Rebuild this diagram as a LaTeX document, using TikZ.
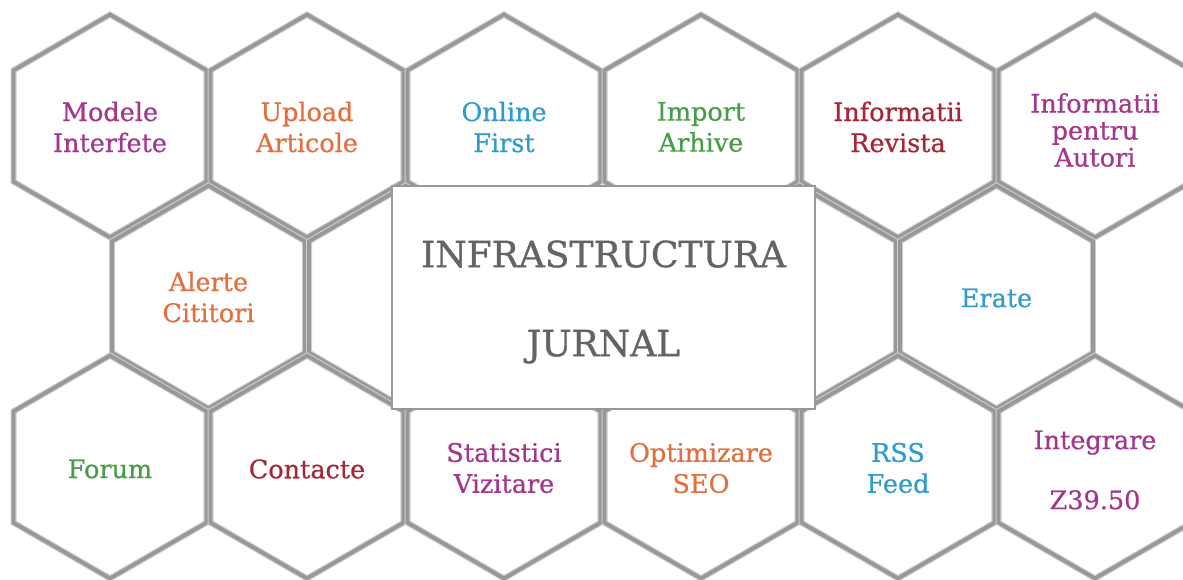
\documentclass[tikz,border=0pt]{standalone}
\usepackage{fontspec}
\setmainfont{DejaVu Serif}
\newfontfamily\hexfont[BoldFont=DejaVu Serif, BoldFeatures={FakeBold=0.7}]{DejaVu Serif}
\newfontfamily\titlefont[BoldFont=DejaVu Serif, BoldFeatures={FakeBold=0.9}]{DejaVu Serif}
\usetikzlibrary{shapes.geometric}
\definecolor{hexgray}{RGB}{152,152,152}
\definecolor{hexhalo}{RGB}{205,205,205}
\definecolor{cpurple}{RGB}{163,55,140}
\definecolor{corange}{RGB}{226,112,62}
\definecolor{cblue}{RGB}{48,155,205}
\definecolor{cgreen}{RGB}{72,155,72}
\definecolor{cred}{RGB}{165,38,56}
\definecolor{titlegray}{RGB}{100,100,100}
\begin{document}
\begin{tikzpicture}[x=1pt,y=-1pt,
  hexcell/.style={regular polygon, regular polygon sides=6, shape border rotate=30,
    minimum size=222.8pt, inner sep=0pt, draw=hexgray, line width=3.8pt,
    preaction={draw=hexhalo, line width=6pt}},
  hexlabel/.style={align=center, inner sep=0pt, font=\hexfont\bfseries\fontsize{25.5}{31}\selectfont},
  corebox/.style={rectangle, draw=hexgray, line width=1.3pt, fill=white,
    minimum width=423pt, minimum height=223pt, inner sep=0pt},
  coretext/.style={align=center, inner sep=0pt, text=titlegray, font=\titlefont\bfseries\fontsize{36}{89}\selectfont}]
\useasboundingbox (0,0) rectangle (1183,579);
\clip (0,0) rectangle (1183,579);
% row 1
\node[hexcell] (h1a) at (110,126) {};
\node[hexcell] (h1b) at (307,126) {};
\node[hexcell] (h1c) at (504,126) {};
\node[hexcell] (h1d) at (701,126) {};
\node[hexcell] (h1e) at (898,126) {};
\node[hexcell] (h1f) at (1095,126) {};
% row 2
\node[hexcell] (h2a) at (208.5,297) {};
\node[hexcell] (h2b) at (405.5,297) {};
\node[hexcell] (h2c) at (799.5,297) {};
\node[hexcell] (h2d) at (996.5,297) {};
% row 3
\node[hexcell] (h3a) at (110,467) {};
\node[hexcell] (h3b) at (307,467) {};
\node[hexcell] (h3c) at (504,467) {};
\node[hexcell] (h3d) at (701,467) {};
\node[hexcell] (h3e) at (898,467) {};
\node[hexcell] (h3f) at (1095,467) {};
% labels
\node[hexlabel, text=cpurple] (t1a) at (110,127) {Modele\\Interfete};
\node[hexlabel, text=corange] (t1b) at (307,127) {Upload\\Articole};
\node[hexlabel, text=cblue]   (t1c) at (504,127) {Online\\First};
\node[hexlabel, text=cgreen]  (t1d) at (701,127) {Import\\Arhive};
\node[hexlabel, text=cred]    (t1e) at (898,127) {Informatii\\Revista};
\node[hexlabel, text=cpurple, font=\hexfont\bfseries\fontsize{25.5}{27}\selectfont] (t1f) at (1095,130) {Informatii\\pentru\\Autori};
\node[hexlabel, text=corange] (t2a) at (208.5,297) {Alerte\\Cititori};
\node[hexlabel, text=cblue]   (t2d) at (996.5,298) {Erate};
\node[hexlabel, text=cgreen]  (t3a) at (110,469) {Forum};
\node[hexlabel, text=cred]    (t3b) at (307,469) {Contacte};
\node[hexlabel, text=cpurple] (t3c) at (504,468) {Statistici\\Vizitare};
\node[hexlabel, text=corange] (t3d) at (701,468) {Optimizare\\SEO};
\node[hexlabel, text=cblue]   (t3e) at (898,468) {RSS\\Feed};
\node[hexlabel, text=cpurple, font=\hexfont\bfseries\fontsize{25.5}{60}\selectfont] (t3f) at (1095,470) {Integrare\\Z39.50};
% centre
\node[corebox] (core) at (603.5,297.5) {};
\node[coretext] (coretxt) at (603.5,302) {INFRASTRUCTURA\\JURNAL};
\end{tikzpicture}
\end{document}
